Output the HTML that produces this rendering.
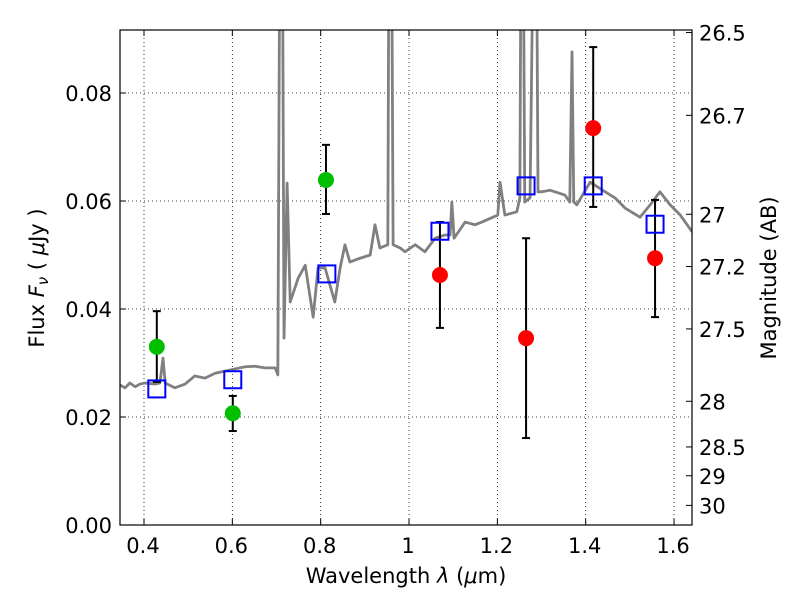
<!DOCTYPE html>
<html><head><meta charset="utf-8"><style>
body{margin:0;background:#fff;}
svg text{font-family:"DejaVu Sans","Liberation Sans",sans-serif;fill:#000;}
</style></head><body>
<svg id="chart" width="800" height="600" viewBox="0 0 800 600" xmlns="http://www.w3.org/2000/svg">
<rect width="800" height="600" fill="#fff"/>
<g id="grid"></g>
<g id="spec"></g>
<g id="marks"></g>
<g id="axes"></g>
</svg>
<script>
const specLam=[.346,.357,.368,.380,.391,.402,.425,.436,.443,.448,.470,.493,.515,.538,.561,.583,.606,.629,.651,.674,.697,.703,.708,.713,.717,.724,.731,.749,.765,.783,.794,.810,.832,.844,.855,.866,.889,.912,.923,.934,.952,.955,.960,.964,.980,.991,1.014,1.036,1.059,1.081,1.093,1.097,1.102,1.127,1.149,1.165,1.201,1.206,1.217,1.244,1.251,1.254,1.258,1.262,1.274,1.283,1.288,1.292,1.299,1.319,1.353,1.364,1.369,1.373,1.380,1.410,1.444,1.466,1.489,1.523,1.546,1.568,1.591,1.614,1.641];
const specFlux=[.0259,.0254,.0263,.0256,.0261,.0263,.0261,.0263,.0309,.0263,.0254,.0261,.0276,.0272,.0281,.0285,.0289,.0293,.0294,.0291,.0291,.0278,.12,.12,.0346,.0633,.0413,.0457,.0481,.0385,.0476,.0476,.0413,.0476,.0519,.0487,.0494,.0500,.0556,.0513,.0519,.12,.12,.0519,.0513,.0506,.0519,.0506,.0531,.0537,.0537,.0598,.0531,.0561,.0556,.0561,.0574,.0635,.0574,.0580,.0606,.12,.12,.0598,.0606,.12,.12,.0617,.0617,.0620,.0611,.0598,.0876,.0598,.0593,.0635,.0617,.0606,.0587,.0570,.0593,.0617,.0593,.0574,.0543];
const greenLam=[0.429,0.601,0.812];
const greenFlux=[0.0330,0.0207,0.0639];
const greenLo=[0.0265,0.0174,0.0576];
const greenHi=[0.0396,0.0239,0.0704];
const redLam=[1.070,1.265,1.417,1.557];
const redFlux=[0.0463,0.0346,0.0735,0.0494];
const redLo=[0.0365,0.0161,0.0589,0.0385];
const redHi=[0.0561,0.0531,0.0885,0.0602];
const modelLam=[0.429,0.601,0.814,1.070,1.265,1.417,1.557];
const modelFlux=[0.0252,0.0269,0.0465,0.0544,0.0628,0.0628,0.0557];
const xTicks=[0.4,0.6,0.8,1.0,1.2,1.4,1.6];
const xTickLabels=["0.4","0.6","0.8","1","1.2","1.4","1.6"];
const yTicks=[0,0.02,0.04,0.06,0.08];
const yTickLabels=["0.00","0.02","0.04","0.06","0.08"];
const magTicks=[26.5,26.7,27,27.2,27.5,28,28.5,29,30];
const magTickLabels=["26.5","26.7","27","27.2","27.5","28","28.5","29","30"];

const L=120,R=692,T=30,B=525;
const X=l=>144+(l-0.4)*441.7;
const Y=f=>525-f*5400;
const NS="http://www.w3.org/2000/svg";
function mk(tag,parent,attrs){const e=document.createElementNS(NS,tag);for(const k in attrs)e.setAttribute(k,attrs[k]);parent.appendChild(e);return e;}
const svg=document.getElementById('chart');
const defs=mk('defs',svg,{});const cp=mk('clipPath',defs,{id:'clip'});mk('rect',cp,{x:L,y:T,width:R-L,height:B-T});
const grid=document.getElementById('grid');
xTicks.forEach((t,i)=>{const g=mk('line',grid,{x1:X(t),x2:X(t),y1:T,y2:B,stroke:'#000','stroke-width':0.8,'stroke-dasharray':'1,3'});
});
yTicks.forEach((t,i)=>{const g=mk('line',grid,{x1:L,x2:R,y1:Y(t),y2:Y(t),stroke:'#000','stroke-width':0.8,'stroke-dasharray':'1,3'});
});
const spec=document.getElementById('spec');spec.setAttribute('clip-path','url(#clip)');
const p=mk('polyline',spec,{points:specLam.map((l,i)=>X(l)+','+Y(specFlux[i])).join(' '),fill:'none',stroke:'#808080','stroke-width':2.8,'stroke-linejoin':'round'});

const marks=document.getElementById('marks');
function errbar(l,lo,hi){const x=X(l);
 const e=mk('g',marks,{});
 mk('line',e,{x1:x,x2:x,y1:Y(lo),y2:Y(hi),stroke:'#000','stroke-width':2});
 mk('line',e,{x1:x-4,x2:x+4,y1:Y(lo),y2:Y(lo),stroke:'#000','stroke-width':2});
 mk('line',e,{x1:x-4,x2:x+4,y1:Y(hi),y2:Y(hi),stroke:'#000','stroke-width':2});}
greenLam.forEach((l,i)=>{errbar(l,greenLo[i],greenHi[i]);
 const c=mk('circle',marks,{cx:X(l),cy:Y(greenFlux[i]),r:8,fill:'#00bf00'});
 });
redLam.forEach((l,i)=>{errbar(l,redLo[i],redHi[i]);
 const c=mk('circle',marks,{cx:X(l),cy:Y(redFlux[i]),r:8,fill:'#ff0000'});
 });
modelLam.forEach((l,i)=>{const s=mk('rect',marks,{x:X(l)-8.5,y:Y(modelFlux[i])-8.5,width:17,height:17,fill:'none',stroke:'#0000ff','stroke-width':2});
 });
const ax=document.getElementById('axes');
mk('rect',ax,{x:L,y:T,width:R-L,height:B-T,fill:'none',stroke:'#000','stroke-width':1.2});
xTicks.forEach((t,i)=>{const x=X(t);
 mk('line',ax,{x1:x,x2:x,y1:B,y2:B-6,stroke:'#000'});mk('line',ax,{x1:x,x2:x,y1:T,y2:T+6,stroke:'#000'});
 const tx=mk('text',ax,{x:x-1,y:553,'font-size':21,'text-anchor':'middle'});tx.textContent=xTickLabels[i];
 });
yTicks.forEach((t,i)=>{const y=Y(t);
 mk('line',ax,{x1:L,x2:L+6,y1:y,y2:y,stroke:'#000'});
 const tx=mk('text',ax,{x:112,y:y+8,'font-size':21,'text-anchor':'end'});tx.textContent=yTickLabels[i];
 });
magTicks.forEach((m,i)=>{const f=Math.pow(10,(23.9-m)/2.5);const y=Y(f);
 mk('line',ax,{x1:R,x2:R-6,y1:y,y2:y,stroke:'#000'});
 const tx=mk('text',ax,{x:699,y:y+8,'font-size':21,'text-anchor':'start'});tx.textContent=magTickLabels[i];
 });
</script>
<svg style="position:absolute;left:0;top:0" width="800" height="600">
<text x="406" y="583" font-size="21" text-anchor="middle" font-family="DejaVu Sans, Liberation Sans, sans-serif">Wavelength  <tspan font-style="italic">λ</tspan> (<tspan font-style="italic">μ</tspan>m)</text>
<text transform="translate(44,278) rotate(-90)" font-size="21" text-anchor="middle" font-family="DejaVu Sans, Liberation Sans, sans-serif">Flux  <tspan font-style="italic">F</tspan><tspan font-style="italic" font-size="15" dy="4">ν</tspan><tspan dy="-4">  ( </tspan><tspan font-style="italic">μ</tspan>Jy )</text>
<text transform="translate(776,278) rotate(-90)" font-size="21" text-anchor="middle" font-family="DejaVu Sans, Liberation Sans, sans-serif">Magnitude (AB)</text>
</svg>
</body></html>
